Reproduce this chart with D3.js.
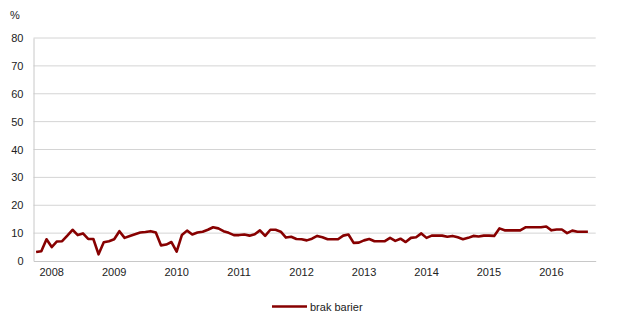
<!DOCTYPE html>
<html>
<head>
<meta charset="utf-8">
<script src="https://cdn.jsdelivr.net/npm/d3@7"></script>
<style>
  body { margin: 0; background: #fff; }
  text { font-family: "Liberation Sans", Arial, sans-serif; fill: #222; }
</style>
</head>
<body>
<script>
// monthly categories, Oct 2007 .. Sep 2016 (last month has no value)
var months = d3.timeMonth.range(new Date(2007, 9, 1), new Date(2016, 9, 1));
var yearLabels = ["2008", "2009", "2010", "2011", "2012", "2013", "2014", "2015", "2016"];
var yTicks = [0, 10, 20, 30, 40, 50, 60, 70, 80];
var seriesName = "brak barier";
var values = [
  3.2, 3.5, 7.8, 5.0, 7.0, 7.1, 9.1, 11.2, 9.3, 9.9, 7.9, 7.9,
  2.4, 6.7, 7.1, 7.8, 10.7, 8.3, 9.0, 9.6, 10.2, 10.4, 10.7, 10.2,
  5.6, 5.9, 6.8, 3.4, 9.3, 10.9, 9.5, 10.2, 10.5, 11.2, 12.1, 11.7,
  10.7, 10.1, 9.3, 9.3, 9.5, 9.1, 9.6, 11.0, 9.0, 11.2, 11.2, 10.5,
  8.4, 8.7, 7.9, 7.8, 7.4, 8.0, 9.0, 8.5, 7.8, 7.8, 7.8, 9.1,
  9.5, 6.5, 6.6, 7.4, 7.9, 7.1, 7.1, 7.1, 8.3, 7.2, 8.0, 6.8,
  8.3, 8.5, 9.9, 8.3, 9.1, 9.1, 9.1, 8.7, 9.0, 8.5, 7.8, 8.3,
  9.0, 8.8, 9.1, 9.1, 9.0, 11.7, 11.0, 11.0, 11.0, 11.0, 12.1, 12.1,
  12.1, 12.1, 12.4, 11.0, 11.3, 11.3, 10.0, 10.9, 10.5, 10.5, 10.5
];

var width = 618, height = 327;
var plotLeft = 33.5, plotRight = 595.7, plotTop = 38, plotBottom = 261;

var svg = d3.select("body").append("svg")
    .attr("width", width)
    .attr("height", height);

var x = d3.scaleBand().domain(months).range([plotLeft, plotRight]).padding(0);
var y = d3.scaleLinear().domain([0, 80]).range([plotBottom, plotTop]);

var fmtYear = d3.timeFormat("%Y");

// gridlines
svg.append("g")
    .selectAll("line")
    .data(yTicks.filter(function(d) { return d > 0; }))
  .enter().append("line")
    .attr("x1", plotLeft).attr("x2", plotRight)
    .attr("y1", function(d) { return y(d); })
    .attr("y2", function(d) { return y(d); })
    .attr("stroke", "#d4d4d4")
    .attr("stroke-width", 1);

// y axis
var yAxis = svg.append("g")
    .attr("transform", "translate(" + plotLeft + ",0)")
    .call(d3.axisLeft(y).tickValues(yTicks).tickSize(0).tickPadding(10).tickSizeOuter(0));
yAxis.select(".domain").attr("stroke", "#c8c8c8");
yAxis.selectAll("text").style("font-size", "11px")
    .style("font-family", "'Liberation Sans', Arial, sans-serif").attr("fill", "#222");

// x axis
var xAxis = svg.append("g")
    .attr("transform", "translate(0," + plotBottom + ")")
    .call(d3.axisBottom(x)
      .tickValues(months.filter(function(m) { return yearLabels.indexOf(fmtYear(m)) >= 0 && m.getMonth() === 0; }))
      .tickFormat(fmtYear)
      .tickSize(0).tickPadding(7).tickSizeOuter(0));
xAxis.select(".domain").attr("stroke", "#c8c8c8");
xAxis.selectAll("text").style("font-size", "11px")
    .style("font-family", "'Liberation Sans', Arial, sans-serif").attr("fill", "#222");

// unit label
svg.append("text")
    .attr("x", 10).attr("y", 19)
    .style("font-size", "11px")
    .text("%");

// the line
var line = d3.line()
    .x(function(d, i) { return x(months[i]) + x.bandwidth() / 2; })
    .y(function(d) { return y(d); });

svg.append("path")
    .datum(values)
    .attr("fill", "none")
    .attr("stroke", "#870000")
    .attr("stroke-width", 2.6)
    .attr("stroke-linejoin", "round")
    .attr("d", line);

// legend
var lg = svg.append("g").attr("transform", "translate(272,306.5)");
lg.append("line")
    .attr("x1", 0).attr("x2", 35)
    .attr("stroke", "#870000").attr("stroke-width", 2.6);
lg.append("text")
    .attr("x", 38).attr("y", 4)
    .style("font-size", "11px")
    .text(seriesName);
</script>
</body>
</html>
